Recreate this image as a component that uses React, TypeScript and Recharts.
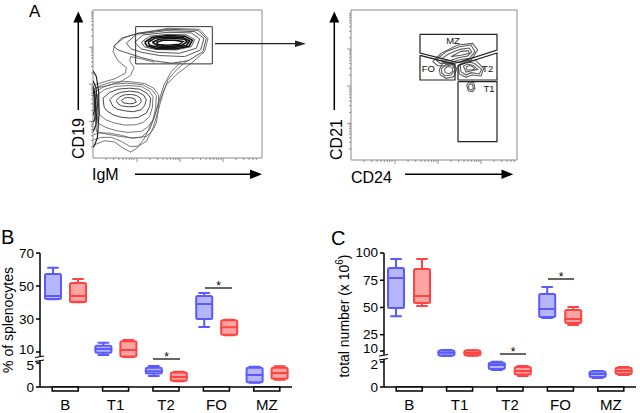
import React from "react";
import { ScatterChart, Scatter, XAxis, YAxis, ReferenceArea, BarChart, Bar } from "recharts";

type Pt = [number, number];

const FONT = '"Liberation Sans", Arial, Helvetica, sans-serif';

// ---------- panel A, left plot: CD19 vs IgM (channel units) ----------
const igmCore: Pt[][] = [
  [[190, 348], [210, 354], [245, 354], [270, 350], [260, 342], [225, 339], [195, 341]],
  [[178, 348], [198, 357], [235, 360], [275, 357], [282, 349], [268, 340], [232, 335], [195, 337]],
  [[165, 348], [185, 360], [225, 364], [270, 362], [290, 352], [280, 338], [240, 332], [195, 333], [170, 339]],
  [[155, 348], [178, 363], [225, 368], [276, 366], [298, 354], [288, 336], [245, 328], [192, 329], [162, 337]],
];
const igmUpper: Pt[][] = [
  [[145, 348], [170, 366], [225, 372], [280, 370], [305, 356], [295, 335], [250, 325], [190, 326], [155, 334]],
  [[125, 348], [150, 370], [225, 378], [295, 376], [320, 358], [310, 330], [260, 315], [190, 318], [145, 328]],
  [[100, 345], [130, 372], [220, 383], [305, 380], [333, 360], [323, 325], [275, 305], [200, 308], [145, 318], [115, 328]],
  [[63, 335], [85, 360], [135, 375], [225, 387], [315, 384], [340, 360], [330, 320], [285, 292], [235, 285], [185, 292], [145, 302], [105, 315], [75, 325]],
];
const igmLower: Pt[][] = [
  [[85, 173], [95, 180], [103, 182], [115, 181], [125, 178], [130, 168], [120, 164], [110, 163], [90, 166]],
  [[70, 173], [80, 184], [95, 190], [115, 191], [130, 188], [142, 180], [145, 170], [137, 160], [125, 155], [105, 154], [85, 157], [74, 164]],
  [[50, 175], [65, 190], [85, 198], [110, 201], [135, 198], [152, 189], [160, 175], [155, 158], [145, 145], [120, 139], [95, 142], [72, 147], [60, 155]],
  [[30, 180], [50, 197], [75, 207], [110, 210], [140, 207], [162, 195], [173, 180], [170, 155], [160, 135], [135, 122], [110, 120], [82, 123], [60, 130], [40, 143], [33, 155]],
  [[13, 190], [35, 206], [65, 215], [105, 218], [145, 215], [168, 202], [180, 185], [178, 152], [170, 125], [152, 108], [130, 100], [95, 99], [65, 105], [38, 115], [20, 130]],
  [[5, 198], [30, 213], [60, 222], [105, 225], [150, 220], [175, 206], [190, 188], [188, 150], [180, 115], [165, 94], [145, 80], [105, 77], [70, 82], [38, 92], [15, 105]],
  [[3, 205], [25, 219], [55, 228], [105, 230], [155, 224], [182, 210], [197, 190], [196, 145], [190, 105], [178, 82], [160, 65], [120, 60], [80, 65], [40, 72], [10, 80]],
];
// open outer contours joining the two populations
const igmTails: Pt[][] = [
  [[5, 220], [30, 228], [65, 238], [97, 255], [100, 272], [75, 292], [60, 320], [65, 340], [95, 362], [135, 375], [225, 390], [320, 387], [345, 360], [335, 320], [295, 285], [255, 255], [220, 220], [200, 170], [180, 115], [155, 60], [130, 28], [113, 18], [90, 30], [65, 48], [35, 52], [10, 42], [3, 38]],
  [[3, 210], [40, 217], [80, 228], [113, 248], [123, 272], [110, 292], [113, 305], [145, 298], [185, 288]],
  [[285, 295], [250, 265], [225, 235], [210, 195], [195, 140], [180, 90], [160, 50], [135, 35], [110, 35], [85, 50], [55, 62], [25, 62], [3, 55]],
  [[265, 290], [235, 260], [213, 220], [197, 170], [185, 125], [170, 85], [145, 62], [115, 60], [85, 68], [50, 75], [15, 75], [3, 70]],
];
// dense strip hugging the CD19 axis
const igmStrip: Pt[][] = [
  [[0, 262], [10, 245], [17, 200], [18, 130], [13, 60], [3, 35], [0, 33]],
  [[0, 232], [9, 212], [13, 160], [9, 100], [1, 80]],
  [[0, 217], [6, 192], [8, 150], [5, 115], [0, 108]],
  [[0, 207], [4, 180], [4, 140], [0, 128]],
];
const igmGate: Pt[] = [[128, 283], [358, 283], [358, 395], [128, 395], [128, 283]];

// ---------- panel A, right plot: CD21 vs CD24 ----------
const cd24Gates: Pt[][] = [
  [[207, 377], [438, 377], [438, 330], [321, 292], [207, 321], [207, 377]], // MZ
  [[207, 314], [312, 287], [312, 240], [207, 240], [207, 314]], // FO
  [[321, 284], [438, 321], [438, 240], [321, 240], [321, 284]], // T2
  [[321, 235], [438, 235], [438, 55], [321, 55], [321, 235]], // T1
];
const gateNames = ["MZ", "FO", "T2", "T1"];
const gateLabelPos: Pt[] = [[306, 360], [232, 276], [410, 276], [414, 216]];
const cd24Contours: Pt[][] = [
  [[245, 295], [270, 320], [320, 345], [365, 350], [380, 330], [360, 300], [320, 293], [290, 282], [260, 283], [245, 295]],
  [[255, 300], [285, 325], [325, 340], [360, 345], [372, 325], [355, 305], [322, 300], [297, 290], [268, 290], [255, 300]],
  [[270, 302], [292, 318], [327, 332], [355, 336], [362, 324], [350, 312], [322, 307], [297, 298], [275, 297], [270, 302]],
  [[300, 310], [330, 326], [352, 328], [355, 320], [330, 314], [300, 310]],
  [[265, 270], [275, 292], [300, 293], [318, 275], [308, 250], [285, 245], [268, 255], [265, 270]],
  [[272, 275], [285, 287], [305, 285], [312, 270], [300, 255], [282, 252], [272, 262], [272, 275]],
  [[280, 272], [290, 281], [303, 278], [305, 266], [295, 259], [283, 262], [280, 272]],
  [[322, 280], [340, 300], [375, 298], [398, 275], [390, 252], [362, 255], [345, 248], [325, 258], [322, 280]],
  [[327, 285], [345, 295], [370, 290], [392, 272], [385, 258], [360, 262], [345, 255], [330, 265], [327, 285]],
  [[337, 282], [350, 288], [368, 283], [380, 272], [362, 268], [345, 264], [337, 282]],
  [[345, 278], [356, 284], [366, 279], [372, 272], [360, 270], [348, 270], [345, 278]],
  [[347, 225], [355, 235], [368, 232], [372, 215], [365, 205], [352, 207], [347, 225]],
  [[352, 222], [358, 229], [365, 226], [367, 214], [360, 210], [354, 213], [352, 222]],
];

// log-decade tick positions of the flow plots
const flowTicksX = [39, 62, 78, 90, 100, 109, 116, 123, 132, 171, 194, 210, 222, 232, 241, 248, 255, 261, 300, 323, 339, 351, 361, 370, 377, 384, 390, 429, 452, 468, 480, 490];
const flowMajorX = [132, 261, 390];
const flowTicksY = [33, 53, 67, 78, 86, 94, 100, 106, 110, 143, 163, 177, 188, 196, 204, 210, 216, 222, 255, 275, 289, 300, 308, 316, 322, 328, 333, 366, 386, 400, 411, 419, 427, 433, 439];
const flowMajorY = [110, 222, 333];

// ---------- panels B and C: [min, q1, median, q3, max] ----------
const subsets = ["B", "T1", "T2", "FO", "MZ"];
const pctBlue = [[42, 42.1, 43.9, 57.3, 61], [8.2, 9.6, 11.8, 13.8, 15.6], [2.3, 2.8, 3.3, 4.0, 4.4], [25.2, 30, 39.1, 43.9, 45.8], [0.9, 1.0, 2.5, 4.0, 4.2]];
const pctRed = [[40.2, 40.3, 43.9, 51.8, 54.2], [7.0, 7.3, 11.2, 16.5, 17.3], [1.2, 1.3, 2.1, 3.0, 3.2], [20.2, 20.5, 25, 29.2, 29.6], [1.5, 1.7, 2.9, 4.0, 4.3]];
const pctTicks = [0, 5, 10, 30, 50, 70];
const numBlue = [[42, 49.5, 77, 86.2, 94.5], [5.4, 5.8, 8.4, 10.5, 10.9], [1.36, 1.45, 1.76, 1.95, 2.02], [40.3, 41.2, 48.6, 62.3, 68.8], [0.72, 0.8, 1.04, 1.25, 1.28]];
const numRed = [[51.3, 54, 60.5, 85.3, 94.5], [5.6, 6, 8.2, 10.4, 10.8], [0.88, 1.0, 1.28, 1.6, 1.68], [33.9, 35.7, 39.4, 47.6, 50.4], [0.96, 1.05, 1.28, 1.55, 1.6]];
const numTicks = [0, 2, 10, 25, 50, 75, 100];

// broken y axes: low segment and high segment share one linear axis
const pctPos = (v: number) => (v < 6 ? v * 4.8 : 35 + (v - 10) * 1.65);
const numPos = (v: number) => (v < 3 ? v * 12.5 : 36 + (v - 10) * 1.089);

const pctRows = subsets.map((s, i) => ({ cat: s, blue: pctBlue[i].map(pctPos), red: pctRed[i].map(pctPos) }));
const numRows = subsets.map((s, i) => ({ cat: s, blue: numBlue[i].map(numPos), red: numRed[i].map(numPos) }));

const BLUE = "#5a5aff";
const BLUE_FILL = "#b6b6ff";
const RED = "#ff4343";
const RED_FILL = "#ffa3a3";

const toXY = (p: Pt[]) => p.map(([x, y]) => ({ x, y }));
const closed = (p: Pt[]) => [...p, p[0]];
const NoDot = () => null;

function BoxGlyph(props: any) {
  const { x, y, width, height, q, stroke, fill } = props;
  const top = Math.min(y, y + height);
  const bot = Math.max(y, y + height);
  const lo = q[0];
  const hi = q[4];
  const at = (v: number) => (hi === lo ? top : bot - ((v - lo) / (hi - lo)) * (bot - top));
  const cx = x + width / 2;
  return (
    <g stroke={stroke} strokeWidth={2} strokeLinejoin="round" strokeLinecap="round">
      <line x1={cx} x2={cx} y1={at(q[4])} y2={at(q[3])} />
      <line x1={cx} x2={cx} y1={at(q[1])} y2={at(q[0])} />
      <line x1={cx - 5} x2={cx + 5} y1={at(q[4])} y2={at(q[4])} />
      <line x1={cx - 5} x2={cx + 5} y1={at(q[0])} y2={at(q[0])} />
      <rect x={x} y={at(q[3])} width={width} height={Math.max(at(q[1]) - at(q[3]), 0.5)} fill={fill} rx={1.5} />
      <line x1={x} x2={x + width} y1={at(q[2])} y2={at(q[2])} />
    </g>
  );
}

const CatTick = (p: any) => (
  <g>
    <rect x={p.x - 13} y={p.y} width={26} height={4} fill="#fff" stroke="#000" strokeWidth={1.5} />
    <text x={p.x} y={p.y + 23} textAnchor="middle" fontSize={15} fill="#000" fontFamily={FONT}>
      {p.payload.value}
    </text>
  </g>
);

const FlowTickX = (p: any) => {
  const len = flowMajorX.includes(p.payload.value) ? 4 : 2;
  return <line x1={p.x} x2={p.x} y1={p.y} y2={p.y + len} stroke="#777" strokeWidth={0.8} />;
};
const FlowTickY = (p: any) => {
  const len = flowMajorY.includes(p.payload.value) ? 4 : 2;
  return <line x1={p.x - len} x2={p.x} y1={p.y} y2={p.y} stroke="#777" strokeWidth={0.8} />;
};

function BoxPanel({ rows, ticks, pos, gap }: { rows: any[]; ticks: number[]; pos: (v: number) => number; gap: number }) {
  const labels = new Map(ticks.map((t) => [pos(t), String(t)]));
  // the two labels on either side of the axis break sit very close; spread them a little
  const lowTop = pos(ticks[1]);
  const highBottom = pos(ticks[2]);
  const ValueTick = (p: any) => {
    const v = p.payload.value;
    const dy = v === highBottom ? -2.5 : v === lowTop ? 2.5 : 0;
    return (
      <text x={p.x} y={p.y + dy} textAnchor="end" dominantBaseline="central" fontSize={13.5} fill="#000" fontFamily={FONT}>
        {labels.get(v) ?? ""}
      </text>
    );
  };
  return (
    <BarChart width={300} height={173} data={rows} margin={{ top: 13, right: 8, bottom: 0, left: 10 }} barGap={gap} barSize={16}>
      <XAxis
        dataKey="cat"
        height={26}
        axisLine={{ stroke: "#000", strokeWidth: 1.5 }}
        tickLine={false}
        tickSize={0}
        tickMargin={0}
        interval={0}
        tick={CatTick}
      />
      <YAxis
        type="number"
        domain={[0, 134]}
        ticks={ticks.map(pos)}
        interval={0}
        width={30}
        tickSize={4}
        tickMargin={2}
        axisLine={{ stroke: "#000", strokeWidth: 1.5 }}
        tickLine={{ stroke: "#000", strokeWidth: 1.5 }}
        tick={ValueTick}
      />
      <Bar
        dataKey={(d: any) => [d.blue[0], d.blue[4]]}
        isAnimationActive={false}
        shape={(p: any) => <BoxGlyph {...p} q={p.payload.blue} stroke={BLUE} fill={BLUE_FILL} />}
      />
      <Bar
        dataKey={(d: any) => [d.red[0], d.red[4]]}
        isAnimationActive={false}
        shape={(p: any) => <BoxGlyph {...p} q={p.payload.red} stroke={RED} fill={RED_FILL} />}
      />
    </BarChart>
  );
}

export default function App() {
  return (
    <div style={{ position: "relative", width: 640, height: 413, background: "#fff", fontFamily: FONT, overflow: "hidden" }}>
      <style>{"body{margin:0}"}</style>

      {/* A: CD19 / IgM */}
      <div style={{ position: "absolute", left: 0, top: 0 }}>
        <ScatterChart width={270} height={165} margin={{ top: 10, right: 8, bottom: 6, left: 92 }}>
          <XAxis type="number" dataKey="x" domain={[0, 507]} allowDataOverflow height={1} axisLine={false} tickLine={false} tickSize={0} tickMargin={0} ticks={flowTicksX} interval={0} tick={FlowTickX} />
          <YAxis type="number" dataKey="y" domain={[0, 445]} allowDataOverflow width={1} axisLine={false} tickLine={false} tickSize={0} tickMargin={0} ticks={flowTicksY} interval={0} tick={FlowTickY} />
          <ReferenceArea x1={0} x2={507} y1={0} y2={445} fill="none" stroke="#8a8a8a" strokeWidth={1} />
          {igmTails.map((c, i) => (
            <Scatter key={"t" + i} data={toXY(c)} line={{ stroke: "#555", strokeWidth: 0.8 }} shape={NoDot} isAnimationActive={false} />
          ))}
          {igmLower.map((c, i) => (
            <Scatter key={"l" + i} data={toXY(closed(c))} line={{ stroke: i < 4 ? "#333" : "#555", strokeWidth: i < 4 ? 0.9 : 0.8 }} shape={NoDot} isAnimationActive={false} />
          ))}
          {igmStrip.map((c, i) => (
            <Scatter key={"s" + i} data={toXY(c)} line={{ stroke: "#222", strokeWidth: 1.2 }} shape={NoDot} isAnimationActive={false} />
          ))}
          {igmUpper.map((c, i) => (
            <Scatter key={"u" + i} data={toXY(closed(c))} line={{ stroke: "#444", strokeWidth: 0.9 }} shape={NoDot} isAnimationActive={false} />
          ))}
          {igmCore.map((c, i) => (
            <Scatter key={"c" + i} data={toXY(closed(c))} line={{ stroke: "#111", strokeWidth: 1.6 }} shape={NoDot} isAnimationActive={false} />
          ))}
          <Scatter data={toXY(igmGate)} line={{ stroke: "#333", strokeWidth: 1 }} shape={NoDot} isAnimationActive={false} />
        </ScatterChart>
      </div>

      {/* A: CD21 / CD24 */}
      <div style={{ position: "absolute", left: 320, top: 0 }}>
        <ScatterChart width={205} height={165} margin={{ top: 10, right: 8, bottom: 4, left: 30 }}>
          <XAxis type="number" dataKey="x" domain={[0, 498]} allowDataOverflow height={1} axisLine={false} tickLine={false} tickSize={0} tickMargin={0} ticks={flowTicksX} interval={0} tick={FlowTickX} />
          <YAxis type="number" dataKey="y" domain={[0, 450]} allowDataOverflow width={1} axisLine={false} tickLine={false} tickSize={0} tickMargin={0} ticks={flowTicksY} interval={0} tick={FlowTickY} />
          <ReferenceArea x1={0} x2={498} y1={0} y2={450} fill="none" stroke="#8a8a8a" strokeWidth={1} />
          {cd24Contours.map((c, i) => (
            <Scatter key={"k" + i} data={toXY(c)} line={{ stroke: "#5e5e5e", strokeWidth: 1.1 }} shape={NoDot} isAnimationActive={false} />
          ))}
          {cd24Gates.map((g, i) => (
            <Scatter key={"g" + i} data={toXY(g)} line={{ stroke: "#222", strokeWidth: 1.2 }} shape={NoDot} isAnimationActive={false} />
          ))}
          <Scatter
            data={gateLabelPos.map(([x, y], i) => ({ x, y, label: gateNames[i] }))}
            isAnimationActive={false}
            shape={(p: any) => (
              <text x={p.cx} y={p.cy} textAnchor="middle" dominantBaseline="central" fontSize={9.5} fill="#111" fontFamily={FONT}>
                {p.payload.label}
              </text>
            )}
          />
        </ScatterChart>
      </div>

      {/* B */}
      <div style={{ position: "absolute", left: 0, top: 240 }}>
        <BoxPanel rows={pctRows} ticks={pctTicks} pos={pctPos} gap={9} />
      </div>

      {/* C */}
      <div style={{ position: "absolute", left: 320, top: 240 }}>
        <div style={{ marginLeft: 24 }}>
          <BoxPanel rows={numRows} ticks={numTicks} pos={numPos} gap={10} />
        </div>
      </div>

      <svg width={640} height={413} style={{ position: "absolute", left: 0, top: 0, pointerEvents: "none" }} fontFamily={FONT}>
        {/* panel letters */}
        <text x={29} y={17} fontSize={17}>A</text>
        <text x={1} y={244} fontSize={20}>B</text>
        <text x={331} y={245} fontSize={20}>C</text>

        {/* CD19 / IgM arrows */}
        <line x1={78.3} x2={78.3} y1={110} y2={21} stroke="#000" strokeWidth={1.5} />
        <polygon points="78.3,11.5 73.3,22.5 83.3,22.5" fill="#000" />
        <text transform="translate(83.5,138.5) rotate(-90)" textAnchor="middle" fontSize={16}>CD19</text>
        <text x={92} y={180} fontSize={16}>IgM</text>
        <line x1={135} x2={251} y1={174.3} y2={174.3} stroke="#000" strokeWidth={1.5} />
        <polygon points="262,174.3 250,169.5 250,179" fill="#000" />

        {/* gate arrow */}
        <line x1={215} x2={296} y1={43.7} y2={43.7} stroke="#222" strokeWidth={1.2} />
        <polygon points="306,43.7 295,40.5 295,47" fill="#222" />

        {/* CD21 / CD24 arrows */}
        <line x1={334.3} x2={334.3} y1={110} y2={21} stroke="#000" strokeWidth={1.5} />
        <polygon points="334.3,11.5 329.3,22.5 339.3,22.5" fill="#000" />
        <text transform="translate(341.5,139.5) rotate(-90)" textAnchor="middle" fontSize={16}>CD21</text>
        <text x={351} y={183} fontSize={16}>CD24</text>
        <line x1={405} x2={502} y1={174.3} y2={174.3} stroke="#000" strokeWidth={1.5} />
        <polygon points="513.3,174.3 501.5,169.5 501.5,179" fill="#000" />

        {/* y labels */}
        <text transform="translate(13,320) rotate(-90)" textAnchor="middle" fontSize={14}>% of splenocytes</text>
        <text transform="translate(349,316) rotate(-90)" textAnchor="middle" fontSize={14}>
          total number (x 10<tspan fontSize={10} dy={-6}>6</tspan><tspan dy={6}>)</tspan>
        </text>

        {/* axis breaks */}
        <rect x={38} y={356.5} width={5} height={4} fill="#fff" />
        <line x1={35} x2={44} y1={357.5} y2={356} stroke="#000" strokeWidth={1.2} />
        <line x1={35} x2={44} y1={361.5} y2={360} stroke="#000" strokeWidth={1.2} />
        <rect x={382} y={355} width={5} height={4} fill="#fff" />
        <line x1={379} x2={388} y1={356} y2={354.5} stroke="#000" strokeWidth={1.2} />
        <line x1={379} x2={388} y1={360} y2={358.5} stroke="#000" strokeWidth={1.2} />

        {/* significance */}
        <line x1={153} x2={180} y1={359} y2={359} stroke="#000" strokeWidth={1.2} />
        <text x={166.5} y={360.5} textAnchor="middle" fontSize={12}>*</text>
        <line x1={205} x2={232} y1={288} y2={288} stroke="#000" strokeWidth={1.2} />
        <text x={218.5} y={289.5} textAnchor="middle" fontSize={12}>*</text>
        <line x1={500} x2={526} y1={354} y2={354} stroke="#000" strokeWidth={1.2} />
        <text x={513} y={355.5} textAnchor="middle" fontSize={12}>*</text>
        <line x1={548} x2={574} y1={279} y2={279} stroke="#000" strokeWidth={1.2} />
        <text x={561} y={280.5} textAnchor="middle" fontSize={12}>*</text>
      </svg>
    </div>
  );
}
